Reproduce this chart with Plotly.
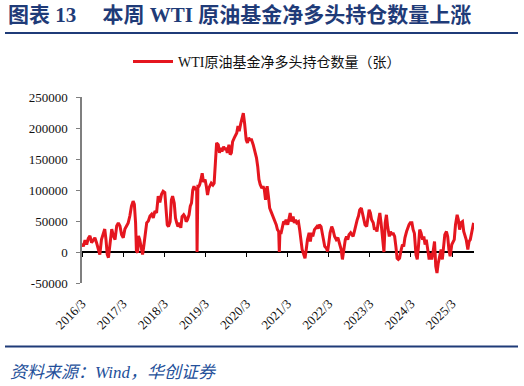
import plotly.graph_objects as go

W, H = 524, 386
L, R, T, B = 82, 50, 97, 103
PW, PH = W - L - R, H - T - B

# ---- data (decimal year, net long contracts) ----
years = [
    2016.17, 2016.20, 2016.24, 2016.28, 2016.32, 2016.36, 2016.40, 2016.44, 2016.48, 2016.52,
    2016.56, 2016.60, 2016.64, 2016.68, 2016.72, 2016.75, 2016.78, 2016.81, 2016.85, 2016.89,
    2016.93, 2016.97, 2017.01, 2017.05, 2017.09, 2017.13, 2017.17, 2017.21, 2017.25, 2017.29,
    2017.33, 2017.37, 2017.41, 2017.44, 2017.47, 2017.49, 2017.52, 2017.54, 2017.57, 2017.61,
    2017.64, 2017.67, 2017.70, 2017.74, 2017.78, 2017.82, 2017.86, 2017.90, 2017.94, 2017.98,
    2018.02, 2018.06, 2018.10, 2018.14, 2018.18, 2018.22, 2018.24, 2018.27, 2018.31, 2018.34,
    2018.37, 2018.41, 2018.44, 2018.47, 2018.50, 2018.54, 2018.57, 2018.60, 2018.64, 2018.67,
    2018.70, 2018.73, 2018.77, 2018.80, 2018.83, 2018.86, 2018.89, 2018.93, 2018.955, 2018.965,
    2018.985, 2019.01, 2019.03, 2019.06, 2019.09, 2019.12, 2019.16, 2019.19, 2019.22, 2019.25,
    2019.28, 2019.31, 2019.35, 2019.38, 2019.41, 2019.44, 2019.48, 2019.51, 2019.54, 2019.57,
    2019.61, 2019.64, 2019.67, 2019.70, 2019.74, 2019.77, 2019.80, 2019.83, 2019.87, 2019.90,
    2019.93, 2019.96, 2019.99, 2020.03, 2020.06, 2020.09, 2020.12, 2020.16, 2020.19, 2020.22,
    2020.25, 2020.29, 2020.33, 2020.37, 2020.41, 2020.44, 2020.47, 2020.50, 2020.54, 2020.57,
    2020.60, 2020.63, 2020.67, 2020.70, 2020.73, 2020.76, 2020.80, 2020.83, 2020.86, 2020.89,
    2020.92, 2020.95, 2020.965, 2020.98, 2021.01, 2021.04, 2021.07, 2021.10, 2021.13, 2021.17,
    2021.20, 2021.23, 2021.26, 2021.30, 2021.33, 2021.36, 2021.39, 2021.43, 2021.46, 2021.49,
    2021.52, 2021.56, 2021.59, 2021.62, 2021.65, 2021.69, 2021.72, 2021.75, 2021.78, 2021.82,
    2021.85, 2021.88, 2021.91, 2021.94, 2021.98, 2022.01, 2022.04, 2022.07, 2022.11, 2022.14,
    2022.17, 2022.20, 2022.24, 2022.27, 2022.31, 2022.35, 2022.39, 2022.43, 2022.47, 2022.50,
    2022.53, 2022.57, 2022.60, 2022.63, 2022.66, 2022.70, 2022.73, 2022.76, 2022.79, 2022.83,
    2022.86, 2022.89, 2022.92, 2022.96, 2022.99, 2023.02, 2023.05, 2023.09, 2023.12, 2023.15,
    2023.18, 2023.21, 2023.25, 2023.28, 2023.31, 2023.34, 2023.38, 2023.41, 2023.44, 2023.47,
    2023.50, 2023.51, 2023.54, 2023.57, 2023.60, 2023.64, 2023.67, 2023.70, 2023.73, 2023.77,
    2023.80, 2023.83, 2023.86, 2023.89, 2023.93, 2023.96, 2023.99, 2024.02, 2024.06, 2024.09,
    2024.12, 2024.15, 2024.19, 2024.22, 2024.25, 2024.29, 2024.32, 2024.35, 2024.38, 2024.41,
    2024.45, 2024.48, 2024.51, 2024.54, 2024.58, 2024.61, 2024.64, 2024.67, 2024.70, 2024.74,
    2024.77, 2024.80, 2024.83, 2024.87, 2024.90, 2024.93, 2024.96, 2024.99, 2025.03, 2025.06,
    2025.09, 2025.12, 2025.16, 2025.19, 2025.22, 2025.25, 2025.29, 2025.32, 2025.35, 2025.38,
    2025.42, 2025.45, 2025.48, 2025.51, 2025.55, 2025.58, 2025.61, 2025.64, 2025.67, 2025.69,
]
values = [
    14000, 9000, 19000, 12000, 22000, 26000, 15000, 20000, 23000, 15000,
    7000, -4000, 20000, 31000, 37000, 20000, -4000, -9000, 10000, 37000,
    26000, 20000, 42000, 47000, 42000, 28000, 23000, 37000, 42000, 47000,
    58000, 74000, 82000, 77000, 47000, 2000, -1000, 26000, 20000, 4000,
    -4000, 10000, 31000, 47000, 50000, 58000, 61000, 55000, 66000, 63000,
    90000, 80000, 93000, 98000, 96000, 68000, 44000, 41000, 49000, 84000,
    90000, 79000, 55000, 47000, 41000, 47000, 39000, 57000, 60000, 57000,
    49000, 52000, 60000, 74000, 79000, 100000, 106000, 100000, 104000, 0,
    106000, 106000, 109000, 117000, 127000, 113000, 117000, 106000, 92000, 103000,
    108000, 111000, 108000, 111000, 143000, 176000, 173000, 160000, 168000, 162000,
    170000, 165000, 168000, 160000, 173000, 157000, 160000, 178000, 184000, 189000,
    192000, 203000, 195000, 208000, 216000, 224000, 208000, 181000, 176000, 184000,
    181000, 181000, 173000, 162000, 152000, 138000, 117000, 109000, 103000, 106000,
    101000, 84000, 106000, 90000, 71000, 66000, 60000, 55000, 49000, 44000,
    36000, 33000, 0, 31000, 31000, 44000, 49000, 47000, 52000, 44000,
    55000, 63000, 49000, 57000, 47000, 52000, 47000, 49000, 36000, 17000,
    4000, -4000, -10000, 4000, 20000, 31000, 17000, 31000, 25000, 36000,
    38000, 41000, 38000, 44000, 41000, 31000, 15000, 9000, 6000, 1000,
    15000, 31000, 41000, 36000, 25000, 20000, 23000, 15000, 4000, -12000,
    6000, 20000, 25000, 20000, 28000, 31000, 28000, 25000, 33000, 47000,
    52000, 58000, 68000, 71000, 63000, 55000, 44000, 41000, 58000, 68000,
    63000, 52000, 47000, 36000, 39000, 33000, 52000, 63000, 47000, 25000,
    10000, 0, 47000, 60000, 41000, 25000, 33000, 28000, 31000, 25000,
    9000, -10000, -12000, -10000, 4000, 12000, 9000, 23000, 33000, 39000,
    44000, 47000, 47000, 36000, 30000, -5000, -12000, 10000, 36000, 31000,
    20000, 25000, 12000, 20000, 1000, -12000, -2000, -12000, -2000, 17000,
    -23000, -34000, -18000, -7000, 4000, -12000, 9000, 28000, 33000, 25000,
    4000, -7000, 12000, 17000, 20000, 44000, 60000, 52000, 36000, 47000,
    49000, 33000, 25000, 20000, 4000, 17000, 20000, 31000, 44000, 47000,
]
series_name = "WTI原油基金净多头持仓数量（张）"

xtick_years = [2016, 2017, 2018, 2019, 2020, 2021, 2022, 2023, 2024, 2025]
xtick_labels = ["2016/3", "2017/3", "2018/3", "2019/3", "2020/3",
                "2021/3", "2022/3", "2023/3", "2024/3", "2025/3"]
ytick_vals = [-50000, 0, 50000, 100000, 150000, 200000, 250000]
ytick_labels = ["-50000", "0", "50000", "100000", "150000", "200000", "250000"]

title_text = "图表 13　 本周 WTI 原油基金净多头持仓数量上涨"
source_text = "资料来源：Wind，华创证券"

NAVY = "#1F3B78"
RED = "#E5161F"
SERIF = "Liberation Serif, 'Noto Sans CJK SC', serif"

xtick_vals = [y + 2 / 12 for y in xtick_years]
x_range = [xtick_vals[0], 2025.70]
y_range = [ytick_vals[0], ytick_vals[-1]]
zero_pos = (0 - y_range[0]) / (y_range[1] - y_range[0])


def px_x(p):
    return (p - L) / PW


def px_y(p):
    return (H - B - p) / PH


fig = go.Figure()
fig.add_trace(go.Scatter(
    x=years, y=values, mode="lines", name=series_name,
    line=dict(color=RED, width=3), showlegend=True,
))
fig.add_trace(go.Scatter(x=[x_range[0]], y=[None], xaxis="x2", showlegend=False,
                         hoverinfo="skip"))

fig.update_layout(
    width=W, height=H,
    margin=dict(l=L, r=R, t=T, b=B, pad=0),
    paper_bgcolor="white", plot_bgcolor="white",
    font=dict(family=SERIF, size=13, color="#111111"),
    title=dict(
        text=title_text, xref="container", yref="container",
        x=8 / W, xanchor="left", y=1 - 15 / H, yanchor="middle",
        font=dict(family=SERIF, size=21, color=NAVY, weight="bold"),
    ),
    showlegend=True,
    legend=dict(
        xref="container", yref="container", x=128 / W, xanchor="left",
        y=1 - 62 / H, yanchor="middle", orientation="h",
        font=dict(family=SERIF, size=14, color="#111111"),
        bgcolor="rgba(0,0,0,0)", borderwidth=0, itemwidth=40,
    ),
    xaxis=dict(
        range=x_range, tickvals=xtick_vals, ticktext=xtick_labels,
        tickangle=-45, showgrid=False, showline=False, zeroline=False,
        ticks="outside", ticklen=7, tickcolor="rgba(0,0,0,0)",
        tickfont=dict(family=SERIF, size=13, color="#111111"),
    ),
    xaxis2=dict(
        range=x_range, tickvals=xtick_vals, overlaying="x", anchor="free",
        position=zero_pos, side="bottom", showticklabels=False,
        ticks="outside", ticklen=4, tickwidth=1.2, tickcolor="#000000",
        showgrid=False, showline=False, zeroline=False,
    ),
    yaxis=dict(
        range=y_range, tickvals=ytick_vals, ticktext=ytick_labels,
        showgrid=False, showline=True, linecolor="#7F7F7F", linewidth=1.5,
        ticks="outside", ticklen=4, tickcolor="#7F7F7F", tickwidth=1.2,
        ticklabelstandoff=6,
        zeroline=True, zerolinecolor="#000000", zerolinewidth=1.5,
        tickfont=dict(family=SERIF, size=13, color="#111111"),
    ),
    shapes=[
        dict(type="line", xref="paper", yref="paper", x0=px_x(5), x1=px_x(518),
             y0=px_y(33), y1=px_y(33), line=dict(color=NAVY, width=2)),
        dict(type="line", xref="paper", yref="paper", x0=px_x(5), x1=px_x(518),
             y0=px_y(346.5), y1=px_y(346.5), line=dict(color=NAVY, width=2)),
    ],
    annotations=[
        dict(text=source_text, xref="paper", yref="paper", x=px_x(8), y=px_y(372),
             xanchor="left", yanchor="middle", showarrow=False,
             font=dict(family=SERIF, size=17, color="#24509A", style="italic")),
    ],
)

fig.write_html("out.html", config={"displayModeBar": False},
               post_script="document.body.style.margin='0';")
